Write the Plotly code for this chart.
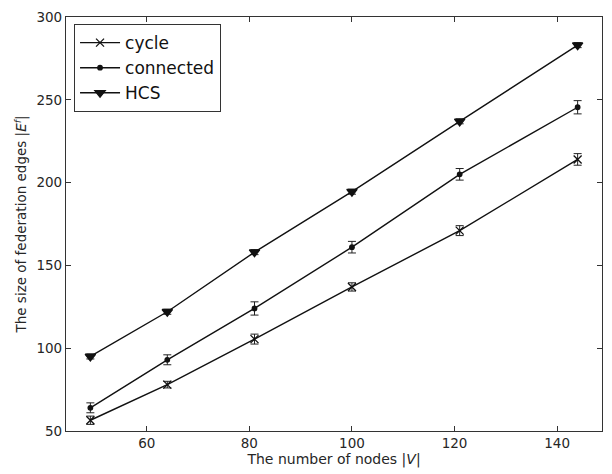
import plotly.graph_objects as go

nodes = [49, 64, 81, 100, 121, 144]
cycle = [56.5, 78, 105.5, 137, 171, 214]
cycle_err = [2.5, 2, 3, 2.5, 3, 3.5]
connected = [64, 93, 124, 161, 205, 245.5]
connected_err = [3, 3, 4, 3.5, 3.5, 4]
hcs = [95, 122, 158, 194.5, 237, 283]
hcs_err = [1.5, 1.5, 1.5, 1.5, 1.5, 1.5]

x_ticks = [60, 80, 100, 120, 140]
y_ticks = [50, 100, 150, 200, 250, 300]

series = [
    ("cycle", cycle, cycle_err, "x-thin", 8),
    ("connected", connected, connected_err, "circle", 4.5),
    ("HCS", hcs, hcs_err, "triangle-down", 9),
]

fig = go.Figure()
for name, ys, errs, sym, size in series:
    fig.add_trace(go.Scatter(
        x=nodes, y=ys, name=name, mode="lines+markers",
        line=dict(color="#111111", width=1.4),
        marker=dict(symbol=sym, size=size, color="#111111",
                    line=dict(color="#111111", width=1.3)),
        error_y=dict(type="data", array=errs, visible=True,
                     color="#222222", thickness=1, width=4),
    ))

axis_common = dict(
    showline=True, linecolor="#333333", linewidth=1.2, mirror="allticks",
    ticks="inside", ticklen=5, tickcolor="#333333", showgrid=False,
    zeroline=False, tickfont=dict(family="DejaVu Sans", size=13.5, color="#262626"),
)

fig.update_layout(
    width=612, height=474,
    margin=dict(l=66, r=9, t=15, b=43),
    paper_bgcolor="white", plot_bgcolor="white",
    font=dict(family="DejaVu Sans", color="#262626"),
    showlegend=True,
    legend=dict(x=0.015, y=0.983, xanchor="left", yanchor="top",
                bordercolor="#333333", borderwidth=1, bgcolor="white",
                font=dict(family="DejaVu Sans", size=17, color="#111111"),
                itemwidth=40, tracegroupgap=0),
    xaxis=dict(range=[44.25, 148.75], tickvals=x_ticks,
               title=dict(text="The number of nodes |<i>V</i>|",
                          font=dict(size=14), standoff=1),
               **axis_common),
    yaxis=dict(range=[50, 300], tickvals=y_ticks,
               title=dict(text="The size of federation edges |<i>E</i><sup><i>f</i></sup>|",
                          font=dict(size=13.5), standoff=6),
               **axis_common),
)

fig.write_html("out.html")
